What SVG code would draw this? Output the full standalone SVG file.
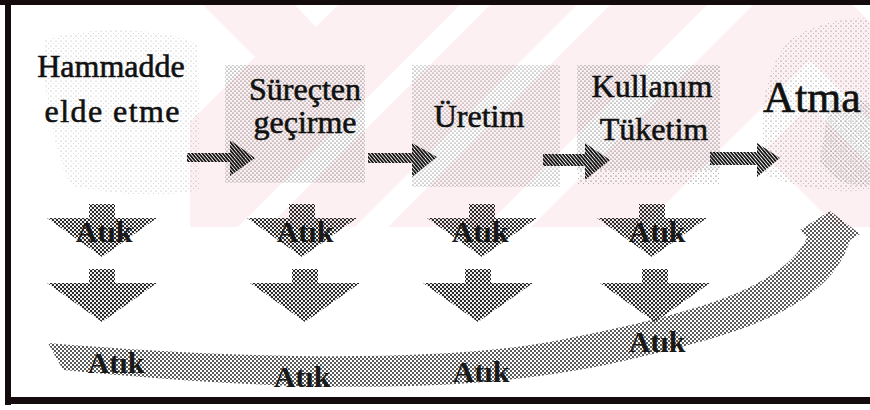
<svg xmlns="http://www.w3.org/2000/svg" width="870" height="410" viewBox="0 0 870 410">
<style>
.lbl{font-family:"Liberation Serif","Times New Roman",serif;font-size:32px;fill:#111;stroke:#111;stroke-width:0.6;text-anchor:middle}
.atik{font-family:"Liberation Serif","Times New Roman",serif;font-size:30px;font-weight:bold;fill:#1a1a1a;text-anchor:middle}
.frame{fill:#140c0c}
.down{fill:url(#dense)}
.band{fill:url(#mid)}
.harr{fill:url(#hatch)}
.box{fill:url(#light)}
.cloud{fill:url(#sparse)}
.wm{fill:#fff}
</style>
<defs>
<pattern id="dense" width="4" height="4" patternUnits="userSpaceOnUse">
<circle cx="1" cy="1" r="1.2" fill="#222"/><circle cx="3" cy="3" r="1.2" fill="#222"/>
</pattern>
<pattern id="mid" width="4" height="4" patternUnits="userSpaceOnUse">
<circle cx="1" cy="1" r="1.0" fill="#222"/><circle cx="3" cy="3" r="1.0" fill="#222"/>
</pattern>
<pattern id="light" width="4" height="4" patternUnits="userSpaceOnUse">
<circle cx="1" cy="1" r="0.6" fill="#333"/><circle cx="3" cy="3" r="0.6" fill="#333"/>
</pattern>
<pattern id="sparse" width="5" height="5" patternUnits="userSpaceOnUse">
<circle cx="1" cy="1" r="0.55" fill="#444"/><circle cx="3.5" cy="3.5" r="0.4" fill="#555"/>
</pattern>
<pattern id="hatch" width="2.6" height="2.6" patternUnits="userSpaceOnUse" patternTransform="rotate(50)">
<rect x="0" y="0" width="2.6" height="1.7" fill="#111"/>
</pattern>
<path id="darr" d="M-13,-53 H13 V-39 H55 L0,0 L-55,-39 H-13 Z"/>
<clipPath id="wmclip"><rect x="11" y="5" width="859" height="222"/></clipPath>
</defs>

<rect width="870" height="410" fill="#fff"/>

<g id="watermark" clip-path="url(#wmclip)">
<polygon points="203,5 870,5 870,227 190,227 190,122 255,57" fill="#fdf0f2"/>
<polygon class="wm" points="295,5 316,27 338,5"/>
<polygon class="wm" points="460,5 490,5 268,227 238,227"/>
<polygon class="wm" points="577,5 610,5 388,227 355,227"/>
<polygon class="wm" points="707,5 753,5 531,227 485,227"/>
<polygon class="wm" points="740,130 837,227 643,227"/>
<polygon class="wm" points="810,60 980,230 980,275 810,105 640,275 640,230"/>
<polygon class="wm" points="853,5 870,5 870,22"/>
</g>

<g id="frame">
<rect class="frame" x="0" y="0" width="870" height="5"/>
<rect class="frame" x="5" y="0" width="6" height="405"/>
<rect class="frame" x="5" y="397" width="865" height="7"/>
</g>

<g id="node-hammadde">
<path class="cloud" d="M45,40 C90,25 170,28 198,45 L200,190 C160,198 110,195 70,185 C55,150 40,90 45,40 Z" opacity="0.5"/>
<text class="lbl" x="111" y="77">Hammadde</text>
<text class="lbl" x="112" y="122" textLength="135" lengthAdjust="spacing">elde etme</text>
</g>

<g id="node-surecten">
<rect class="box" x="225" y="65" width="140" height="118"/>
<text class="lbl" x="305" y="100">Süreçten</text>
<text class="lbl" x="305" y="133">geçirme</text>
</g>

<g id="node-uretim">
<rect class="box" x="412" y="65" width="148" height="122" opacity="0.85"/>
<text class="lbl" x="479" y="127">Üretim</text>
</g>

<g id="node-kullanim">
<rect class="box" x="577" y="65" width="143" height="105"/>
<rect class="cloud" x="577" y="170" width="143" height="15"/>
<text class="lbl" x="652" y="97">Kullanım</text>
<text class="lbl" x="654" y="140">Tüketim</text>
</g>

<g id="node-atma">
<path class="cloud" d="M790,40 C820,20 860,15 870,20 L870,190 C830,195 790,185 765,175 C758,120 762,70 790,40 Z" opacity="0.8"/>
<path class="box" d="M830,100 C850,95 865,100 870,105 L870,185 C850,188 830,180 820,160 Z" opacity="0.7"/>
<text class="lbl" x="812" y="112" style="font-size:44px">Atma</text>
</g>

<g id="connectors">
<polygon class="harr" points="187,153 230,153 230,140 255,158 230,176 230,162 187,162"/>
<polygon class="harr" points="368,153 412,153 412,143 437,157 412,177 412,163 368,163"/>
<polygon class="harr" points="543,154 585,154 585,143 610,160 585,180 585,166 543,166"/>
<polygon class="harr" points="710,152 757,152 757,143 780,158 757,177 757,165 710,165"/>

<use class="down" href="#darr" x="102" y="257"/>
<use class="down" href="#darr" x="302" y="257"/>
<use class="down" href="#darr" x="482" y="257"/>
<use class="down" href="#darr" x="652" y="257"/>
<use class="down" href="#darr" x="102" y="322"/>
<use class="down" href="#darr" x="305" y="322"/>
<use class="down" href="#darr" x="478" y="322"/>
<use class="down" href="#darr" x="655" y="322"/>

<path class="band" d="M48,343 C250,360 450,362 560,340 C680,316 780,292 807,238 L800,230 L830,211 L860,234 L850,240 C832,300 760,330 640,357 C500,392 330,396 63,370 Z"/>
</g>

<g id="labels-atik">
<text class="atik" x="104" y="242">Atık</text>
<text class="atik" x="305" y="242">Atık</text>
<text class="atik" x="480" y="242">Atık</text>
<text class="atik" x="657" y="242">Atık</text>
<text class="atik" x="116" y="373">Atık</text>
<text class="atik" x="302" y="387">Atık</text>
<text class="atik" x="481" y="382">Atık</text>
<text class="atik" x="657" y="352">Atık</text>
</g>
</svg>
